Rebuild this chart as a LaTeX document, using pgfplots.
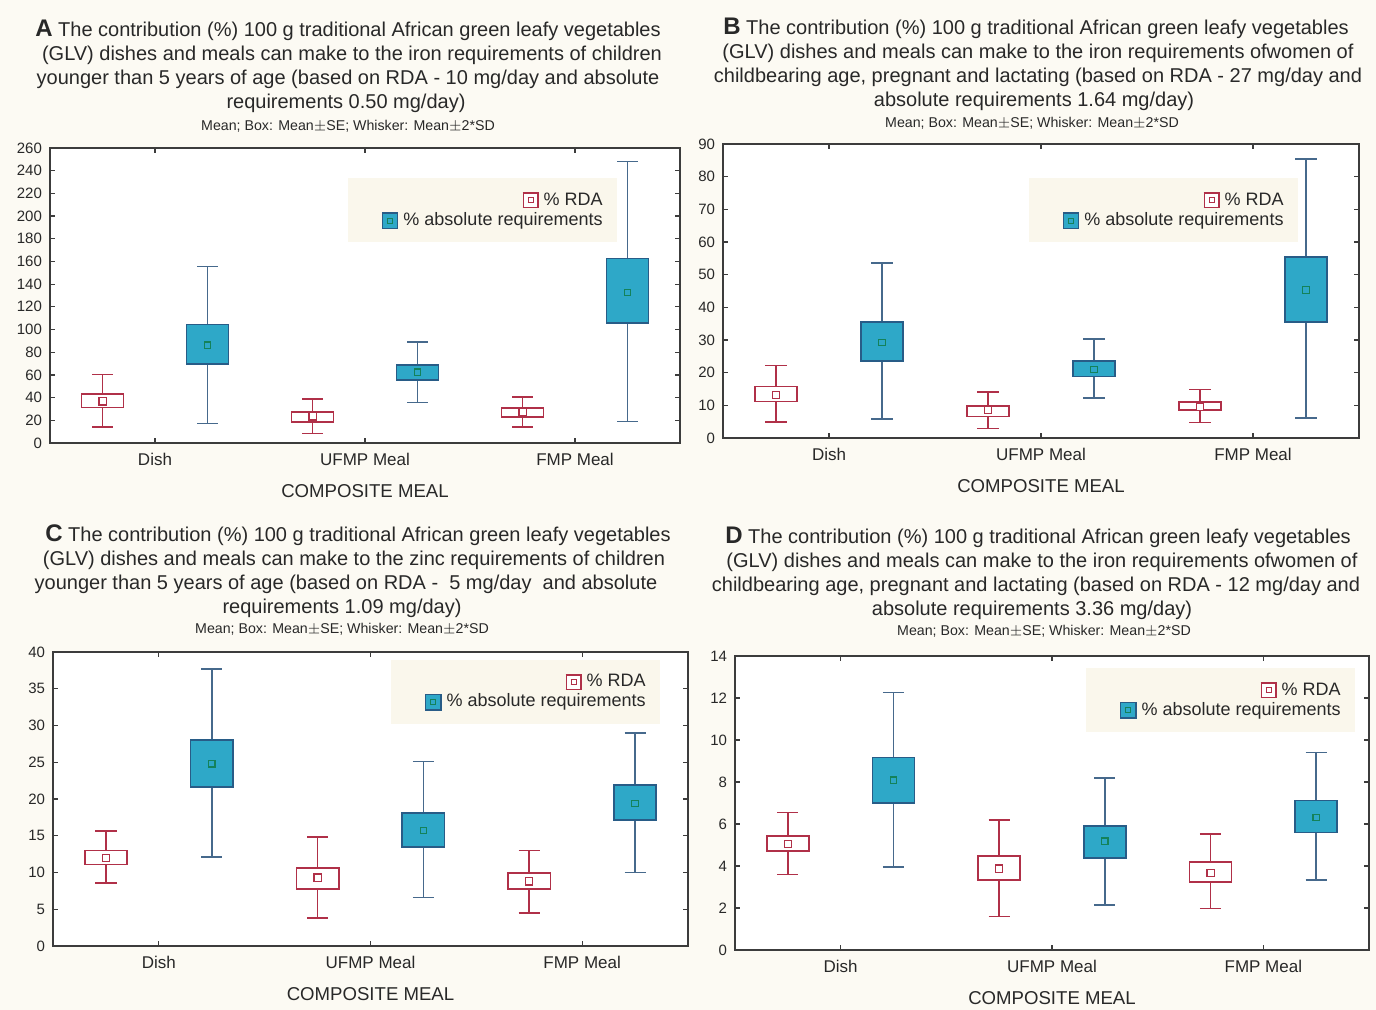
\documentclass[border=0pt]{standalone}
\usepackage{fontspec}
\setmainfont{Liberation Sans}
\usepackage{pgfplots}
\pgfplotsset{compat=1.18}
\definecolor{bgcream}{RGB}{252,250,243}
\definecolor{legcream}{RGB}{250,247,236}
\definecolor{rdared}{RGB}{176,48,72}
\definecolor{absteal}{RGB}{46,168,200}
\definecolor{absblue}{RGB}{40,92,135}
\definecolor{abswhisk}{RGB}{70,105,140}
\definecolor{absgreen}{RGB}{20,130,90}
\definecolor{axgray}{RGB}{60,60,60}
\definecolor{txt}{RGB}{40,40,40}
\newcommand{\rdaicon}{\raisebox{1.3pt}{{\setlength{\fboxrule}{0.7pt}\setlength{\fboxsep}{1.8pt}\fcolorbox{rdared}{white}{{\setlength{\fboxrule}{0.5pt}\setlength{\fboxsep}{0pt}\fcolorbox{rdared}{white}{\rule{0pt}{2pt}\hspace{2pt}}}}}}}
\newcommand{\absicon}{\raisebox{1.3pt}{{\setlength{\fboxrule}{0.6pt}\setlength{\fboxsep}{2pt}\fcolorbox{absblue}{absteal}{{\setlength{\fboxrule}{0.5pt}\setlength{\fboxsep}{0pt}\fcolorbox{absgreen}{absteal}{\rule{0pt}{2pt}\hspace{2pt}}}}}}}
% #1 series (rda/abs), #2 position, #3 lower whisker, #4 lower box, #5 mean, #6 upper box, #7 upper whisker
\newcommand{\bx}[7]{%
  \pgfmathsetmacro\bL{#2-0.1}\pgfmathsetmacro\bR{#2+0.1}%
  \pgfmathsetmacro\cL{#2-0.05}\pgfmathsetmacro\cR{#2+0.05}%
  \addplot[#1 whisker] coordinates {(#2,#3) (#2,#4)};
  \addplot[#1 whisker] coordinates {(#2,#6) (#2,#7)};
  \addplot[#1 whisker] coordinates {(\cL,#3) (\cR,#3)};
  \addplot[#1 whisker] coordinates {(\cL,#7) (\cR,#7)};
  \addplot[#1 box] coordinates {(\bL,#4) (\bR,#4) (\bR,#6) (\bL,#6)} -- cycle;
  \addplot[#1 mean] coordinates {(#2,#5)};
}
\newcommand{\legentries}{%
  \addlegendimage{legend image code/.code={}}
  \addlegendentry{\rdaicon\ \% RDA}
  \addlegendimage{legend image code/.code={}}
  \addlegendentry{\hspace*{10pt}\absicon\ \% absolute requirements}}
\pgfplotsset{
 panel/.style={
  anchor=south west, scale only axis,
  xmin=-0.5, xmax=2.5, ymin=0,
  xtick={0,1,2}, xticklabels={Dish,UFMP Meal,FMP Meal},
  tick align=inside, major tick length=2.5pt,
  tick style={axgray, line width=0.6pt},
  axis line style={axgray, line width=0.9pt},
  axis background/.style={fill=white},
  ticklabel style={text=txt},
  yticklabel style={font=\fontsize{7.5}{8}\selectfont, xshift=-0.5pt},
  xticklabel style={font=\fontsize{8.5}{10}\selectfont, yshift=-1.5pt},
  /pgf/number format/assume math mode=true,
  xlabel={COMPOSITE MEAL},
  xlabel style={font=\fontsize{9.3}{11}\selectfont, text=txt, at={(axis description cs:0.5,-0.163)}, anchor=center},
  legend style={fill=legcream, draw=none, font=\fontsize{9}{11}\selectfont, text=txt, anchor=north east, row sep=-2pt, inner xsep=5pt, inner ysep=5pt},
  legend cell align=right,
 },
 rda whisker/.style={forget plot, draw=rdared, line width=0.8pt, mark=none},
 rda box/.style={forget plot, draw=rdared, fill=white, line width=0.85pt, mark=none},
 rda mean/.style={forget plot, only marks, mark=square*, mark size=1.8pt, mark options={draw=rdared, fill=white, line width=0.6pt}},
 abs whisker/.style={forget plot, draw=abswhisk, line width=0.8pt, mark=none},
 abs box/.style={forget plot, draw=absblue, fill=absteal, line width=0.85pt, mark=none},
 abs mean/.style={forget plot, only marks, mark=square*, mark size=1.6pt, mark options={draw=absgreen, fill=absteal, line width=0.6pt}},
}
\begin{document}
\begin{tikzpicture}
\fill[bgcream] (0,0) rectangle (688pt,505pt);
% ---------- titles ----------
\begin{scope}[every node/.style={anchor=base, inner sep=0pt, text=txt, font=\fontsize{10}{12}\selectfont}]
\node at (174pt,486.5pt) {{\bfseries\fontsize{12}{12}\selectfont A} The contribution (\%) 100 g traditional African green leafy vegetables};
\node at (176pt,474.5pt) {(GLV) dishes and meals can make to the iron requirements of children};
\node at (174pt,462.5pt) {younger than 5 years of age (based on RDA - 10 mg/day and absolute};
\node at (173pt,450.5pt) {requirements 0.50 mg/day)};
\node[font=\fontsize{7.1}{8}\selectfont] at (174pt,439.5pt) {Mean; Box: Mean$\pm$SE; Whisker: Mean$\pm$2*SD};
\node at (518pt,487.5pt) {{\bfseries\fontsize{12}{12}\selectfont B} The contribution (\%) 100 g traditional African green leafy vegetables};
\node at (519pt,475.5pt) {(GLV) dishes and meals can make to the iron requirements ofwomen of};
\node at (519pt,463.5pt) {childbearing age, pregnant and lactating (based on RDA - 27 mg/day and};
\node at (517pt,451.5pt) {absolute requirements 1.64 mg/day)};
\node[font=\fontsize{7.1}{8}\selectfont] at (516pt,441pt) {Mean; Box: Mean$\pm$SE; Whisker: Mean$\pm$2*SD};
\node at (179pt,234pt) {{\bfseries\fontsize{12}{12}\selectfont C} The contribution (\%) 100 g traditional African green leafy vegetables};
\node at (177pt,222pt) {(GLV) dishes and meals can make to the zinc requirements of children};
\node at (173pt,210pt) {younger than 5 years of age (based on RDA -\ \ 5 mg/day\ \ and absolute};
\node at (171pt,198pt) {requirements 1.09 mg/day)};
\node[font=\fontsize{7.1}{8}\selectfont] at (171pt,188pt) {Mean; Box: Mean$\pm$SE; Whisker: Mean$\pm$2*SD};
\node at (519pt,233pt) {{\bfseries\fontsize{12}{12}\selectfont D} The contribution (\%) 100 g traditional African green leafy vegetables};
\node at (521pt,221pt) {(GLV) dishes and meals can make to the iron requirements ofwomen of};
\node at (518pt,209pt) {childbearing age, pregnant and lactating (based on RDA - 12 mg/day and};
\node at (516pt,197pt) {absolute requirements 3.36 mg/day)};
\node[font=\fontsize{7.1}{8}\selectfont] at (522pt,187pt) {Mean; Box: Mean$\pm$SE; Whisker: Mean$\pm$2*SD};
\end{scope}
% ---------- A ----------
\begin{axis}[panel, at={(25pt,283.5pt)}, width=315pt, height=147.5pt, ymax=260, ytick={0,20,...,260},
  legend style={at={(rel axis cs:0.90,0.898)}}]
\bx{rda}{-0.25}{14.1}{31.4}{36.7}{43.2}{60.2}
\bx{abs}{0.25}{17.3}{69.6}{86.1}{104.3}{155.7}
\bx{rda}{0.75}{8.5}{18.8}{23.5}{27.3}{38.8}
\bx{abs}{1.25}{35.8}{55.8}{62.3}{69}{89}
\bx{rda}{1.75}{14.1}{22.9}{27}{30.6}{40.5}
\bx{abs}{2.25}{19.1}{105.8}{132.5}{162.5}{248}
\legentries
\end{axis}
% ---------- B ----------
\begin{axis}[panel, at={(361.5pt,286pt)}, width=318pt, height=147pt, ymax=90, ytick={0,10,...,90},
  legend style={at={(rel axis cs:0.904,0.884)}}]
\bx{rda}{-0.25}{4.9}{11.2}{13.1}{15.8}{22.2}
\bx{abs}{0.25}{5.8}{23.5}{29.2}{35.6}{53.5}
\bx{rda}{0.75}{2.9}{6.6}{8.5}{9.8}{14.1}
\bx{abs}{1.25}{12.3}{18.8}{21}{23.6}{30.3}
\bx{rda}{1.75}{4.8}{8.5}{9.5}{11}{14.8}
\bx{abs}{2.25}{6.2}{35.6}{45.3}{55.5}{85.4}
\legentries
\end{axis}
% ---------- C ----------
\begin{axis}[panel, at={(26.5pt,32pt)}, width=317.5pt, height=147pt, ymax=40, ytick={0,5,...,40},
  legend style={at={(rel axis cs:0.956,0.973)}}]
\bx{rda}{-0.25}{8.6}{11.1}{12.0}{13.0}{15.65}
\bx{abs}{0.25}{12.1}{21.6}{24.8}{28.05}{37.7}
\bx{rda}{0.75}{3.8}{7.8}{9.3}{10.6}{14.8}
\bx{abs}{1.25}{6.6}{13.5}{15.7}{18.1}{25.1}
\bx{rda}{1.75}{4.5}{7.8}{8.8}{9.95}{13.0}
\bx{abs}{2.25}{10.0}{17.1}{19.4}{21.9}{29.0}
\legentries
\end{axis}
% ---------- D ----------
\begin{axis}[panel, at={(367.5pt,30pt)}, width=317pt, height=147pt, ymax=14, ytick={0,2,...,14},
  legend style={at={(rel axis cs:0.978,0.959)}}]
\bx{rda}{-0.25}{3.6}{4.71}{5.04}{5.42}{6.55}
\bx{abs}{0.25}{3.96}{6.99}{8.09}{9.16}{12.26}
\bx{rda}{0.75}{1.6}{3.33}{3.88}{4.46}{6.2}
\bx{abs}{1.25}{2.14}{4.38}{5.18}{5.91}{8.2}
\bx{rda}{1.75}{1.97}{3.25}{3.68}{4.19}{5.52}
\bx{abs}{2.25}{3.33}{5.6}{6.31}{7.12}{9.4}
\legentries
\end{axis}
\pgfresetboundingbox
\path[use as bounding box] (0,0) rectangle (688pt,505pt);
\end{tikzpicture}
\end{document}
